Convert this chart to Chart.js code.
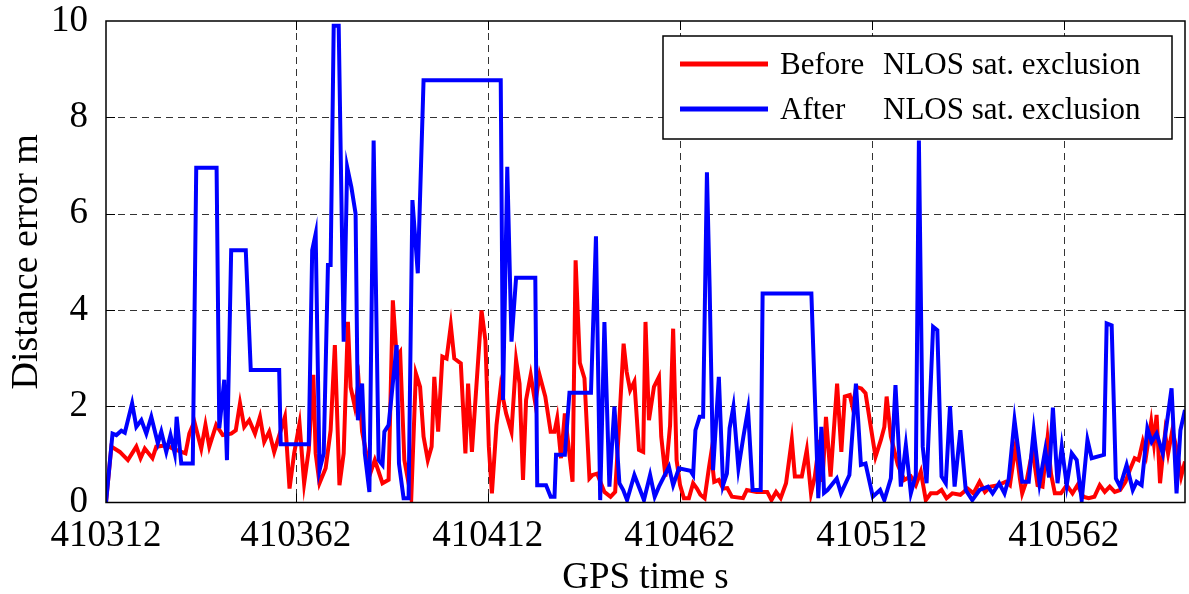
<!DOCTYPE html>
<html>
<head>
<meta charset="utf-8">
<script src="https://cdn.jsdelivr.net/npm/chart.js@4/dist/chart.umd.min.js"></script>
<style>
    html, body { margin: 0; padding: 0; background: #fff; }
    #wrap { width: 1189px; height: 594px; }
</style>
</head>
<body>
<div id="wrap"><canvas id="errChart" width="1189" height="594"></canvas></div>
<script>
// GPS time (s) and distance error (m)
const timeBefore = [410312.6, 410314.0, 410316.2, 410318.3, 410320.5, 410321.6, 410322.7, 410324.7, 410325.7, 410328.3,
    410330.0, 410333.3, 410334.3, 410335.6, 410337.4, 410338.5, 410339.5, 410341.3, 410343.0, 410345.2,
    410346.4, 410347.5, 410348.6, 410349.9, 410351.4, 410352.7, 410353.8, 410355.1, 410356.4, 410359.2,
    410360.4, 410361.6, 410363.0, 410364.2, 410365.4, 410366.6, 410367.2, 410368.2, 410369.8, 410371.1,
    410372.2, 410373.4, 410374.5, 410375.6, 410376.3, 410377.4, 410378.4, 410379.3, 410381.4, 410382.6,
    410384.6, 410386.2, 410387.3, 410388.3, 410389.2, 410390.3, 410392.1, 410393.3, 410394.4, 410395.3,
    410396.4, 410397.4, 410398.1, 410399.1, 410400.2, 410401.3, 410402.4, 410403.3, 410405.0, 410406.2,
    410406.9, 410407.9, 410410.4, 410411.4, 410412.3, 410413.1, 410414.3, 410415.4, 410416.8, 410418.2,
    410419.4, 410420.3, 410421.2, 410422.0, 410423.2, 410424.4, 410425.5, 410427.0, 410428.4, 410429.4,
    410430.1, 410431.1, 410432.1, 410434.1, 410434.9, 410436.0, 410437.2, 410438.5, 410439.3, 410440.5,
    410442.4, 410444.0, 410445.2, 410446.3, 410447.4, 410448.2, 410449.1, 410450.2, 410451.4, 410452.5,
    410453.1, 410454.0, 410455.3, 410456.6, 410457.2, 410458.3, 410459.5, 410460.3, 410461.2, 410462.1,
    410463.1, 410464.4, 410465.5, 410466.5, 410467.4, 410468.5, 410469.6, 410470.2, 410471.0, 410472.2,
    410473.3, 410474.4, 410475.6, 410478.5, 410479.5, 410482.0, 410484.8, 410485.9, 410487.1, 410488.3,
    410489.7, 410491.2, 410492.0, 410493.8, 410495.1, 410496.2, 410497.2, 410498.4, 410499.2, 410500.1,
    410501.3, 410503.0, 410504.1, 410505.0, 410506.3, 410507.0, 410508.0, 410509.3, 410510.4, 410511.5,
    410513.0, 410514.4, 410515.3, 410515.9, 410517.0, 410518.8, 410520.5, 410522.2, 410523.5, 410524.8,
    410526.1, 410527.4, 410529.0, 410530.2, 410531.5, 410533.0, 410535.1, 410537.0, 410538.5, 410540.1,
    410541.5, 410543.0, 410545.0, 410546.9, 410548.0, 410549.5, 410550.6, 410551.2, 410552.4, 410553.9,
    410555.2, 410556.5, 410557.8, 410558.7, 410559.7, 410561.3, 410562.8, 410564.3, 410565.6, 410567.1,
    410568.5, 410570.0, 410571.4, 410572.7, 410574.0, 410575.3, 410576.7, 410578.1, 410579.2, 410580.5,
    410581.5, 410582.6, 410583.5, 410584.8, 410585.5, 410586.2, 410587.1, 410588.4, 410589.2, 410590.3,
    410591.3, 410592.6, 410593.6];
const errBefore = [0, 1.16, 1.05, 0.88, 1.16, 0.92, 1.12, 0.92, 1.16, 1.19,
    1.12, 1.02, 1.43, 1.68, 1.12, 1.61, 1.16, 1.61, 1.40, 1.43,
    1.50, 2.06, 1.57, 1.71, 1.43, 1.78, 1.26, 1.47, 1.05, 1.78,
    0.29, 1.02, 1.64, 0.40, 1.09, 2.65, 1.02, 0.40, 0.71, 1.50,
    3.27, 0.36, 1.02, 3.75, 2.40, 1.99, 2.51, 1.47, 0.60, 0.88,
    0.40, 0.47, 4.20, 3.03, 3.13, 0.88, 0.09, 2.68, 2.40, 1.37,
    0.88, 1.16, 2.61, 1.47, 3.03, 2.99, 3.68, 2.99, 2.89, 1.02,
    2.47, 1.05, 3.99, 3.37, 1.16, 0.19, 1.61, 2.40, 1.85, 1.47,
    2.96, 2.47, 0.47, 2.13, 2.65, 2.06, 2.65, 2.20, 1.47, 1.47,
    1.75, 0.92, 1.85, 0.43, 5.03, 2.90, 2.58, 0.50, 0.57, 0.60,
    0.22, 0.12, 0.22, 1.71, 3.30, 2.71, 2.33, 2.51, 1.09, 1.05,
    3.75, 1.71, 2.40, 2.61, 1.37, 0.54, 1.60, 3.61, 0.88, 0.36,
    0.09, 0.09, 0.40, 0.29, 0.16, 0.09, 0.71, 1.02, 0.43, 0.47,
    0.29, 0.30, 0.12, 0.09, 0.26, 0.22, 0.22, 0.05, 0.22, 0.09,
    0.40, 1.30, 0.54, 0.54, 1.09, 0.19, 0.54, 1.30, 0.43, 1.78,
    0.54, 2.47, 1.05, 2.20, 2.23, 1.99, 2.40, 2.37, 2.27, 1.71,
    0.95, 1.30, 1.57, 2.20, 1.37, 0.78, 0.47, 0.54, 0.36, 0.64,
    0.05, 0.19, 0.19, 0.26, 0.09, 0.19, 0.16, 0.29, 0.19, 0.43,
    0.22, 0.33, 0.36, 0.43, 0.36, 1.19, 0.50, 0.19, 0.47, 1.09,
    0.36, 0.33, 1.33, 0.60, 0.19, 0.19, 0.36, 0.19, 0.36, 0.12,
    0.09, 0.12, 0.36, 0.22, 0.33, 0.22, 0.26, 0.43, 0.67, 0.92,
    0.88, 1.26, 0.99, 1.68, 1.23, 1.82, 0.40, 1.43, 1.02, 1.50,
    1.16, 0.54, 0.85];

const timeAfter = [410312.6, 410314.3, 410315.3, 410316.6, 410317.5, 410319.4, 410320.5, 410321.8, 410323.1, 410324.4,
    410326.1, 410327.0, 410328.3, 410329.4, 410330.5, 410331.0, 410332.2, 410335.2, 410336.1, 410341.4,
    410342.1, 410343.4, 410344.1, 410345.2, 410349.0, 410350.3, 410357.7, 410358.1, 410365.4, 410366.3,
    410367.2, 410368.2, 410369.3, 410370.4, 410371.1, 410371.9, 410373.2, 410374.5, 410375.4, 410376.5,
    410377.6, 410378.2, 410379.3, 410380.0, 410381.2, 410382.3, 410383.6, 410384.6, 410385.1, 410386.2,
    410388.3, 410388.9, 410390.1, 410391.4, 410392.4, 410393.8, 410395.3, 410415.4, 410416.0, 410417.1,
    410418.2, 410419.4, 410424.4, 410424.9, 410427.2, 410428.4, 410429.4, 410429.8, 410432.1, 410433.3,
    410438.9, 410440.2, 410441.3, 410442.4, 410443.7, 410445.0, 410446.3, 410447.3, 410448.3, 410450.2,
    410451.5, 410452.7, 410454.3, 410455.5, 410456.6, 410459.2, 410460.3, 410461.8, 410464.8, 410465.5,
    410466.1, 410467.2, 410468.1, 410469.1, 410469.8, 410470.7, 410472.2, 410473.3, 410474.3, 410475.0,
    410476.0, 410477.3, 410478.6, 410479.8, 410481.0, 410483.1, 410483.6, 410496.3, 410498.1, 410498.9,
    410499.6, 410500.5, 410502.9, 410504.0, 410506.2, 410507.9, 410509.2, 410510.4, 410512.3, 410514.2,
    410515.3, 410517.0, 410518.2, 410519.6, 410520.9, 410522.2, 410523.5, 410524.3, 410525.3, 410526.3,
    410528.0, 410529.1, 410530.2, 410531.3, 410532.4, 410533.6, 410535.1, 410536.5, 410538.2, 410540.1,
    410542.3, 410543.5, 410545.2, 410546.6, 410547.7, 410549.2, 410550.3, 410551.2, 410552.9, 410554.2,
    410555.7, 410557.2, 410558.2, 410559.2, 410560.4, 410561.5, 410562.8, 410564.1, 410565.4, 410566.7,
    410568.2, 410569.3, 410572.5, 410573.2, 410574.5, 410575.6, 410576.7, 410578.4, 410580.0, 410581.0,
    410582.3, 410583.8, 410584.9, 410586.2, 410587.8, 410590.1, 410591.4, 410592.4, 410593.6];
const errAfter = [0, 1.43, 1.40, 1.49, 1.45, 2.06, 1.57, 1.71, 1.43, 1.78,
    1.23, 1.47, 1.05, 1.40, 1.02, 1.78, 0.81, 0.81, 6.95, 6.95,
    1.54, 2.55, 0.88, 5.24, 5.24, 2.75, 2.75, 1.21, 1.21, 5.24,
    5.58, 0.67, 1.02, 4.93, 4.93, 9.90, 9.90, 3.34, 6.97, 6.55,
    6.00, 1.71, 2.47, 1.02, 0.22, 7.52, 0.88, 0.78, 1.47, 1.61,
    3.27, 0.81, 0.09, 0.09, 6.28, 4.76, 8.77, 8.77, 2.13, 6.97,
    3.34, 4.67, 4.67, 0.36, 0.36, 0.12, 0.12, 0.99, 0.99, 2.28,
    2.28, 5.53, 0.05, 3.75, 0.33, 1.99, 0.40, 0.26, 0.05, 0.57,
    0.30, 0.05, 0.57, 0.12, 0.33, 0.74, 0.36, 0.71, 0.66, 0.57,
    1.50, 1.78, 1.78, 6.86, 4.47, 0.67, 2.61, 0.36, 0.60, 1.54,
    1.99, 0.71, 1.37, 1.93, 0.26, 0.26, 4.34, 4.34, 0.09, 1.57,
    0.20, 0.26, 0.50, 0.19, 0.57, 2.47, 0.78, 0.81, 0.12, 0.26,
    0.05, 0.50, 2.44, 0.33, 1.19, 0.19, 0.57, 7.52, 1.16, 0.40,
    3.65, 3.58, 0.54, 0.40, 2.00, 0.33, 1.50, 0.26, 0.05, 0.26,
    0.33, 0.19, 0.40, 0.19, 0.50, 1.71, 1.02, 0.43, 0.43, 1.49,
    0.40, 1.09, 0.52, 1.97, 0.40, 1.16, 0.36, 1.02, 0.88, 0.05,
    1.30, 0.92, 0.99, 3.72, 3.68, 0.50, 0.33, 0.78, 0.26, 0.43,
    0.36, 1.54, 1.26, 1.43, 1.02, 2.37, 0.19, 1.50, 1.92];

const xTicks = [410312, 410362, 410412, 410462, 410512, 410562];
const yTicks = [0, 2, 4, 6, 8, 10];
const seriesNames = ['Before', 'After'];
const legendSuffix = 'NLOS sat. exclusion';
const xMin = 410312.6, xMax = 410593.6;

const FONT = '"Liberation Serif", "Times New Roman", serif';

function toPoints(ts, vs) {
    return ts.map((t, i) => ({ x: t, y: vs[i] }));
}

// grid, box and inner ticks in the matlab look
const framePlugin = {
    id: 'frame',
    beforeDatasetsDraw(chart) {
        const { ctx, chartArea: a, scales } = chart;
        ctx.save();
        ctx.strokeStyle = 'rgba(0,0,0,0.8)';
        ctx.lineWidth = 1;
        ctx.setLineDash([7, 5]);
        scales.x.ticks.forEach(t => {
            const px = Math.round(scales.x.getPixelForValue(t.value)) + 0.5;
            if (px <= a.left + 2 || px >= a.right - 2) return;
            ctx.beginPath(); ctx.moveTo(px, a.top); ctx.lineTo(px, a.bottom); ctx.stroke();
        });
        scales.y.ticks.forEach(t => {
            const py = Math.round(scales.y.getPixelForValue(t.value)) + 0.5;
            if (py <= a.top + 2 || py >= a.bottom - 2) return;
            ctx.beginPath(); ctx.moveTo(a.left, py); ctx.lineTo(a.right, py); ctx.stroke();
        });
        ctx.restore();
    },
    afterDatasetsDraw(chart) {
        const { ctx, chartArea: a, scales } = chart;
        ctx.save();
        ctx.strokeStyle = '#000';
        ctx.lineWidth = 1.5;
        ctx.setLineDash([]);
        ctx.strokeRect(a.left, a.top, a.right - a.left, a.bottom - a.top);
        ctx.lineWidth = 1;
        const len = 9;
        scales.x.ticks.forEach(t => {
            const px = Math.round(scales.x.getPixelForValue(t.value)) + 0.5;
            if (px <= a.left + 2 || px >= a.right - 2) return;
            ctx.beginPath();
            ctx.moveTo(px, a.bottom); ctx.lineTo(px, a.bottom - len);
            ctx.moveTo(px, a.top); ctx.lineTo(px, a.top + len);
            ctx.stroke();
        });
        scales.y.ticks.forEach(t => {
            const py = Math.round(scales.y.getPixelForValue(t.value)) + 0.5;
            if (py <= a.top + 2 || py >= a.bottom - 2) return;
            ctx.beginPath();
            ctx.moveTo(a.left, py); ctx.lineTo(a.left + len, py);
            ctx.moveTo(a.right, py); ctx.lineTo(a.right - len, py);
            ctx.stroke();
        });

        // legend box
        const bx = 663, by = 36, bw = 509, bh = 103;
        ctx.fillStyle = '#fff';
        ctx.fillRect(bx, by, bw, bh);
        ctx.lineWidth = 1.5;
        ctx.strokeRect(bx, by, bw, bh);
        ctx.font = '31px ' + FONT;
        ctx.textBaseline = 'middle';
        ctx.textAlign = 'left';
        chart.data.datasets.forEach((ds, i) => {
            const y = 64 + i * 45;
            ctx.strokeStyle = ds.borderColor;
            ctx.lineWidth = 5;
            ctx.beginPath(); ctx.moveTo(680, y); ctx.lineTo(768, y); ctx.stroke();
            ctx.fillStyle = '#000';
            ctx.fillText(seriesNames[i], 780, y + 2);
            ctx.fillText(legendSuffix, 883, y + 2);
        });
        ctx.restore();
    }
};

new Chart(document.getElementById('errChart'), {
    type: 'line',
    data: {
        datasets: [{
            label: seriesNames[0],
            data: toPoints(timeBefore, errBefore),
            borderColor: '#ff0000',
            borderWidth: 4,
            pointRadius: 0,
            tension: 0,
            order: 2
        }, {
            label: seriesNames[1],
            data: toPoints(timeAfter, errAfter),
            borderColor: '#0000ff',
            borderWidth: 4,
            pointRadius: 0,
            tension: 0,
            order: 1
        }]
    },
    options: {
        responsive: false,
        animation: false,
        events: [],
        layout: { padding: { top: 21, right: 4, left: 0, bottom: 0 } },
        plugins: {
            legend: { display: false },
            tooltip: { enabled: false }
        },
        scales: {
            x: {
                type: 'linear',
                min: xMin,
                max: xMax,
                afterBuildTicks: scale => {
                    scale.ticks = xTicks.map(v => ({ value: Math.max(v, xMin) }));
                },
                afterFit: scale => {
                    scale.height = 91.5;
                    scale.paddingLeft = 0;
                    scale.paddingRight = 0;
                },
                grid: { display: false },
                border: { display: false },
                ticks: {
                    color: '#000',
                    font: { family: FONT, size: 37, lineHeight: 1 },
                    padding: 7,
                    maxRotation: 0,
                    autoSkip: false,
                    callback: v => String(Math.floor(v))
                },
                title: {
                    display: true,
                    text: 'GPS time s',
                    color: '#000',
                    font: { family: FONT, size: 37, lineHeight: 1 },
                    padding: { top: 0, bottom: -3 }
                }
            },
            y: {
                min: 0,
                max: 10,
                afterBuildTicks: scale => {
                    scale.ticks = yTicks.map(v => ({ value: v }));
                },
                afterFit: scale => {
                    scale.width = 106;
                    scale.paddingTop = 0;
                    scale.paddingBottom = 0;
                },
                grid: { display: false },
                border: { display: false },
                ticks: {
                    color: '#000',
                    font: { family: FONT, size: 37 },
                    padding: 10
                },
                title: {
                    display: true,
                    text: 'Distance error m',
                    color: '#000',
                    font: { family: FONT, size: 38, lineHeight: 1 },
                    padding: { top: 8, bottom: 0 }
                }
            }
        }
    },
    plugins: [framePlugin]
});
</script>
</body>
</html>
